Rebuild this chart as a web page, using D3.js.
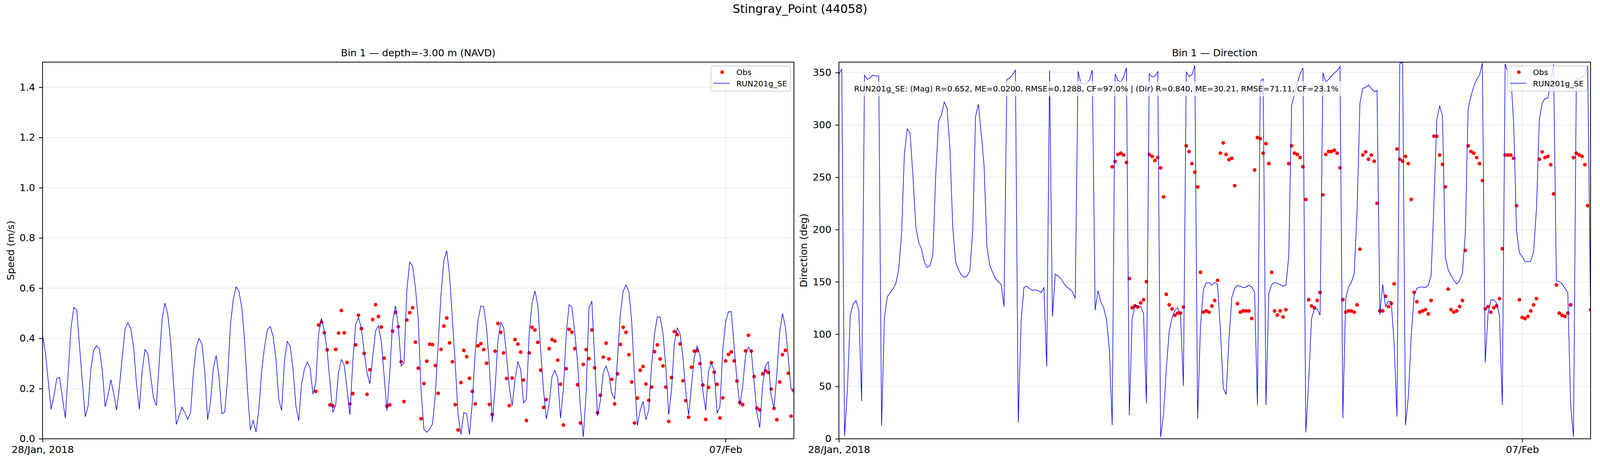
<!DOCTYPE html>
<html><head><meta charset="utf-8">
<script src="https://cdn.jsdelivr.net/npm/d3@7"></script>
<style>html,body{margin:0;padding:0;background:#fff;overflow:hidden}
#c{display:block}
text{font-family:"DejaVu Sans",sans-serif}</style>
</head><body>
<svg id="c"></svg>
<script>
// ---------------- DATA ----------------
const startUTC = Date.UTC(2018, 0, 28, 0, 0, 0); // hourly series start
const obsStartHour = 96;                         // obs begin 01/Feb 00:00

const speedModel = [0.413,0.343,0.230,0.117,0.170,0.241,0.244,0.162,0.083,0.263,
 0.442,0.523,0.514,0.367,0.227,0.088,0.130,0.280,0.354,0.371,
 0.358,0.271,0.128,0.173,0.235,0.180,0.114,0.206,0.325,0.439,
 0.462,0.438,0.364,0.219,0.117,0.271,0.356,0.338,0.248,0.162,
 0.132,0.305,0.478,0.541,0.494,0.388,0.222,0.057,0.092,0.126,
 0.105,0.077,0.104,0.263,0.367,0.399,0.377,0.268,0.076,0.147,
 0.281,0.332,0.248,0.100,0.106,0.235,0.452,0.553,0.605,0.587,
 0.522,0.388,0.196,0.035,0.073,0.027,0.118,0.271,0.367,0.435,
 0.447,0.409,0.318,0.157,0.113,0.310,0.388,0.368,0.279,0.131,
 0.072,0.217,0.278,0.306,0.283,0.178,0.223,0.419,0.480,0.429,
 0.351,0.222,0.105,0.134,0.266,0.316,0.293,0.196,0.095,0.307,
 0.455,0.483,0.442,0.346,0.263,0.219,0.325,0.430,0.450,0.388,
 0.253,0.112,0.263,0.465,0.530,0.450,0.290,0.302,0.592,0.704,
 0.688,0.603,0.476,0.191,0.038,0.026,0.038,0.059,0.173,0.377,
 0.574,0.709,0.749,0.652,0.476,0.299,0.095,0.017,0.104,0.100,
 0.017,0.144,0.341,0.473,0.529,0.526,0.442,0.289,0.067,0.201,
 0.390,0.463,0.444,0.336,0.206,0.131,0.235,0.307,0.276,0.143,
 0.157,0.424,0.540,0.589,0.534,0.356,0.196,0.079,0.139,0.248,
 0.272,0.242,0.082,0.198,0.416,0.534,0.524,0.424,0.302,0.121,
 0.007,0.185,0.523,0.548,0.315,0.091,0.152,0.263,0.290,0.254,
 0.181,0.159,0.315,0.496,0.587,0.613,0.587,0.468,0.242,0.052,
 0.114,0.149,0.076,0.116,0.294,0.416,0.485,0.485,0.419,0.284,
 0.095,0.196,0.382,0.441,0.419,0.325,0.188,0.095,0.209,0.325,
 0.370,0.331,0.191,0.113,0.271,0.302,0.271,0.102,0.127,0.354,
 0.466,0.506,0.506,0.367,0.232,0.134,0.209,0.332,0.365,0.351,
 0.227,0.103,0.045,0.211,0.290,0.307,0.173,0.121,0.258,0.426,
 0.499,0.447,0.325,0.197,0.183];

const speedObs = [0.189,0.453,0.465,0.422,0.354,0.135,0.131,0.356,0.421,0.511,
 0.422,0.304,0.139,0.180,0.374,0.492,0.439,0.340,0.177,0.275,
 0.475,0.534,0.487,0.445,0.321,0.130,0.135,0.429,0.503,0.446,
 0.307,0.148,0.473,0.502,0.522,0.385,0.281,0.080,0.220,0.309,
 0.377,0.375,0.292,0.181,0.356,0.449,0.481,0.382,0.307,0.136,
 0.035,0.224,0.352,0.327,0.241,0.189,0.139,0.370,0.379,0.355,
 0.301,0.137,0.097,0.349,0.459,0.424,0.342,0.240,0.132,0.242,
 0.395,0.377,0.345,0.234,0.073,0.342,0.444,0.433,0.384,0.273,
 0.125,0.156,0.359,0.395,0.389,0.313,0.217,0.055,0.279,0.436,
 0.424,0.359,0.215,0.063,0.296,0.355,0.319,0.433,0.283,0.104,
 0.173,0.325,0.381,0.318,0.237,0.139,0.259,0.376,0.444,0.424,
 0.335,0.226,0.063,0.162,0.273,0.288,0.218,0.153,0.206,0.347,
 0.374,0.318,0.290,0.206,0.069,0.244,0.427,0.415,0.378,0.231,
 0.152,0.086,0.285,0.349,0.351,0.299,0.214,0.077,0.205,0.303,
 0.265,0.217,0.083,0.163,0.310,0.336,0.346,0.310,0.230,0.145,
 0.136,0.350,0.412,0.349,0.248,0.122,0.115,0.259,0.271,0.264,
 0.198,0.121,0.076,0.226,0.335,0.352,0.261,0.090,0.195];

const dirModel = [348.3,353.6,2.6,47,117.7,128.7,132.2,122.9,36,347.5,
 343.5,345.1,347.7,346.6,347,12.4,115.9,135.7,139.7,143.4,
 148.6,161.4,195.3,271.9,296.2,292.2,251.3,203.5,187.8,181.7,
 168.9,163.8,165.6,175.4,251.3,303.4,309.2,321.8,316,277,
 202.3,168.9,161.4,156.8,154.4,155.6,160.3,198.8,308,319.7,
 291,260.6,183.6,165.6,159.1,152.8,150.4,147.4,126.4,343.5,
 344.7,348.2,352.4,15.5,112.4,144.6,145.8,143.4,142,142.3,
 141.6,139.7,144.6,69.2,351.7,116.6,157.5,155.6,152.8,148.6,
 145,143.4,140.8,134,351.2,340,338.9,339.6,342.8,352.4,
 122.9,141.6,130.6,125.2,114,85.5,13.1,348.7,342.4,341.2,
 345.9,354.7,22.5,114,127.6,127.1,126.4,119.4,34.1,348.9,
 345.9,346.6,351,1.5,22.5,66.9,102.4,115.4,122.9,125.2,
 117.7,50.5,350.5,346.3,347.7,356.8,19,107.7,142.3,149.1,
 149.1,146.7,149.7,147.4,104.2,48.6,42.3,94.9,135,143.9,
 146.7,145.8,144.4,145.1,146.7,145.1,140.4,31.8,341.6,344,
 32.3,138.7,147.4,149.3,148.6,147.4,145.8,146.7,174.2,318.3,
 329.5,340,348.9,354.5,6.2,55.2,114.7,124.1,124.1,118.2,
 349.8,341.2,343.5,346.6,349.8,351.7,355.9,19.7,133.8,145,
 149.7,157.9,218.6,320.6,334.9,335.8,338.4,334.9,331.8,333,
 118.7,147.4,126.4,131.7,131,91.3,21.3,358.7,359.9,13.1,
 40,97.2,136.4,143.9,145,145,144.6,146.7,156.1,225.6,
 305,318.3,308.5,173.8,161.4,156.1,151.4,148.1,150.9,158.6,
 195.7,315.5,327.6,337,343.5,347.5,359.2,73.1,119.4,132.7,
 132.9,129.9,117.7,32.3,358.2,349.8,346.3,301.5,198.8,177.8,
 174.2,169.6,169.1,169.6,179.4,219.8,305,320.6,325.3,325.5,
 340,358,150.9,150.2,148.1,143.9,139.9,32.9,1.9,344.7,
 343.5,345.9,347.5,356.4,120.6];

const dirObs = [260,265,271.8,273,271.2,264.1,153.2,125.2,127.1,125.9,
 129.9,132.9,150.2,271.8,269.9,266,268.8,259,231.2,138.1,
 128,124.1,118,120.1,120.1,125.9,280,274.6,263,254.8,
 240.8,159.1,121,122.2,121,126.9,132.2,151.4,273,282.8,
 271.8,266.9,268.1,241.9,129.2,121,122.2,122.2,122.2,115,
 256.9,287.9,286.8,273,282.1,263,159.1,122.2,118.2,122.2,
 116.4,123.4,263,280,273,271.8,268.8,260,228.8,132.9,
 126.9,125.2,132.2,139.9,233.1,271.8,274.6,274.6,275.8,273,
 259,132.9,121,122.2,122.2,121,128,181.2,271.2,274.2,
 267.2,271.2,265.3,225.1,122.2,122.2,136.2,126.4,129.4,148.1,
 277,267.2,265.3,269.9,263,228.8,139.9,131,121,122.2,
 123.4,119.4,132.2,289.2,289.2,271.2,262.3,240.8,143.1,123.4,
 121,122.2,126.4,132.2,180.1,280,274.6,273,268.8,263,
 246.8,124.1,126.4,121,125.2,127.1,134,181.7,271.2,271.2,
 271.2,268.1,222.8,132.9,115.9,114.9,117,122.2,128,134,
 267.2,274.2,268.8,269.9,262,234,147.1,120.1,118,117,
 120.1,128,268.8,273,271.2,269.9,262,222.8,123.4];

const speedTicks = [0, 0.2, 0.4, 0.6, 0.8, 1.0, 1.2, 1.4];
const dirTicks = [0, 50, 100, 150, 200, 250, 300, 350];
const xTickDates = [Date.UTC(2018, 0, 28), Date.UTC(2018, 1, 7)];
const xTickLabels = ["28/Jan, 2018", "07/Feb"];
const seriesNames = ["Obs", "RUN201g_SE"];
const figTitle = "Stingray_Point (44058)";
const statsText = "RUN201g_SE: (Mag) R=0.652, ME=0.0200, RMSE=0.1288, CF=97.0% | (Dir) R=0.840, ME=30.21, RMSE=71.11, CF=23.1%";

// ---------------- LAYOUT (fills the actual viewport) ----------------
const VW = window.innerWidth || 5000, VH = window.innerHeight || 1200;
const sx = VW / 5000, sy = VH / 1200, sf = Math.sqrt(sx * sy);
const svg = d3.select("#c").attr("width", VW).attr("height", VH);
const HOUR = 3600e3;
const tOf = i => new Date(startUTC + i * HOUR);
const FS = 27.8 * sf, FSL = 22.2 * sf;

svg.append("rect").attr("width", VW).attr("height", VH).attr("fill", "#fff");
svg.append("text").attr("x", 2500 * sx).attr("y", 33 * sy).attr("text-anchor", "middle")
  .attr("font-size", 33.3 * sf).text(figTitle);

const yTop = 159 * sy, yBot = 1122.7 * sy;

function panel(cfg) {
  const x0 = cfg.x0 * sx, x1 = cfg.x1 * sx;
  const g = svg.append("g");
  const x = d3.scaleUtc().domain([tOf(0), tOf(cfg.model.length - 1)]).range([x0, x1]);
  const y = d3.scaleLinear().domain(cfg.ydom).range([yBot, yTop]);
  const id = "clip" + cfg.key;
  svg.append("clipPath").attr("id", id).append("rect")
    .attr("x", x0).attr("y", yTop).attr("width", x1 - x0).attr("height", yBot - yTop);

  // grid
  g.append("g").selectAll("line").data(cfg.yticks).join("line")
    .attr("x1", x0).attr("x2", x1).attr("y1", d => y(d)).attr("y2", d => y(d))
    .attr("stroke", "#ebebeb").attr("stroke-width", 2 * sf);
  g.append("g").selectAll("line").data(xTickDates).join("line")
    .attr("x1", d => x(new Date(d))).attr("x2", d => x(new Date(d))).attr("y1", yTop).attr("y2", yBot)
    .attr("stroke", "#ebebeb").attr("stroke-width", 2 * sf);

  const plot = g.append("g").attr("clip-path", `url(#${id})`);
  plot.append("g").selectAll("circle").data(cfg.obs).join("circle")
    .attr("cx", (d, i) => x(tOf(obsStartHour + i))).attr("cy", d => y(d)).attr("r", 5.2 * sf)
    .attr("fill", "#ff0000");
  const line = d3.line().x((d, i) => x(tOf(i))).y(d => y(d));
  plot.append("path").datum(cfg.model).attr("d", line)
    .attr("fill", "none").attr("stroke", "#0000ff").attr("stroke-width", 1.7 * sf);

  // axes
  const ya = g.append("g").attr("transform", `translate(${x0},0)`)
    .call(d3.axisLeft(y).tickValues(cfg.yticks).tickFormat(cfg.fmt).tickSize(10 * sf).tickPadding(11 * sf));
  const xa = g.append("g").attr("transform", `translate(0,${yBot})`)
    .call(d3.axisBottom(x).tickValues(xTickDates.map(d => new Date(d))).tickFormat((d, i) => xTickLabels[i])
      .tickSize(10 * sf).tickPadding(10 * sf));
  [ya, xa].forEach(a => {
    a.select(".domain").remove();
    a.selectAll("line").attr("stroke", "#000").attr("stroke-width", 2.2 * sf);
    a.selectAll("text").attr("font-size", FS).attr("font-family", "DejaVu Sans").attr("fill", "#000");
  });
  let minX = Infinity;
  ya.selectAll("text").each(function () { const b = this.getBBox(); minX = Math.min(minX, b.x); });
  const ylabX = x0 + minX - 15.8 * sf;

  // spines
  g.append("rect").attr("x", x0).attr("y", yTop).attr("width", x1 - x0).attr("height", yBot - yTop)
    .attr("fill", "none").attr("stroke", "#000").attr("stroke-width", 2.2 * sf);

  // titles / labels
  g.append("text").attr("x", (x0 + x1) / 2).attr("y", yTop - 16.3 * sf).attr("text-anchor", "middle")
    .attr("font-size", FS).text(cfg.title);
  g.append("text").attr("transform", `translate(${ylabX},${(yTop + yBot) / 2}) rotate(-90)`)
    .attr("text-anchor", "middle").attr("font-size", FS).text(cfg.ylabel);

  // stats text
  if (cfg.stats) {
    const sg = g.append("g");
    const box = sg.append("rect");
    const t = sg.append("text").attr("x", x0 + 0.0202 * (x1 - x0)).attr("y", yTop + 48 * sy + 30 * sf)
      .attr("font-size", FSL).text(cfg.stats);
    const bb = t.node().getBBox();
    box.attr("x", bb.x - 9 * sf).attr("y", bb.y - 8 * sf).attr("width", bb.width + 18 * sf).attr("height", bb.height + 16 * sf)
      .attr("fill", "#fff").attr("fill-opacity", 0.7);
  }

  // legend
  const lx = x1 - 235 * sf, ly = yTop + 11 * sf;
  const lg = g.append("g").attr("transform", `translate(${lx},${ly}) scale(${sf})`);
  lg.append("rect").attr("width", 225).attr("height", 71).attr("rx", 4)
    .attr("fill", "#fff").attr("fill-opacity", 0.8).attr("stroke", "#cccccc").attr("stroke-width", 2);
  lg.append("circle").attr("cx", 32).attr("cy", 17.5).attr("r", 5.2).attr("fill", "#ff0000");
  lg.append("line").attr("x1", 7).attr("x2", 53).attr("y1", 48.75).attr("y2", 48.75)
    .attr("stroke", "#0000ff").attr("stroke-width", 1.7);
  lg.append("text").attr("x", 72).attr("y", 26).attr("font-size", 22.2).text(seriesNames[0]);
  lg.append("text").attr("x", 72).attr("y", 57).attr("font-size", 22.2).text(seriesNames[1]);
}

panel({key: "a", x0: 133, x1: 2481, ydom: [0, 1.5], yticks: speedTicks, fmt: d3.format(".1f"),
  model: speedModel, obs: speedObs, title: "Bin 1 \u2014 depth=-3.00 m (NAVD)", ylabel: "Speed (m/s)"});
panel({key: "b", x0: 2621.5, x1: 4970.5, ydom: [0, 360], yticks: dirTicks, fmt: d3.format("d"),
  model: dirModel, obs: dirObs, title: "Bin 1 \u2014 Direction", ylabel: "Direction (deg)", stats: statsText});
</script>
</body></html>
